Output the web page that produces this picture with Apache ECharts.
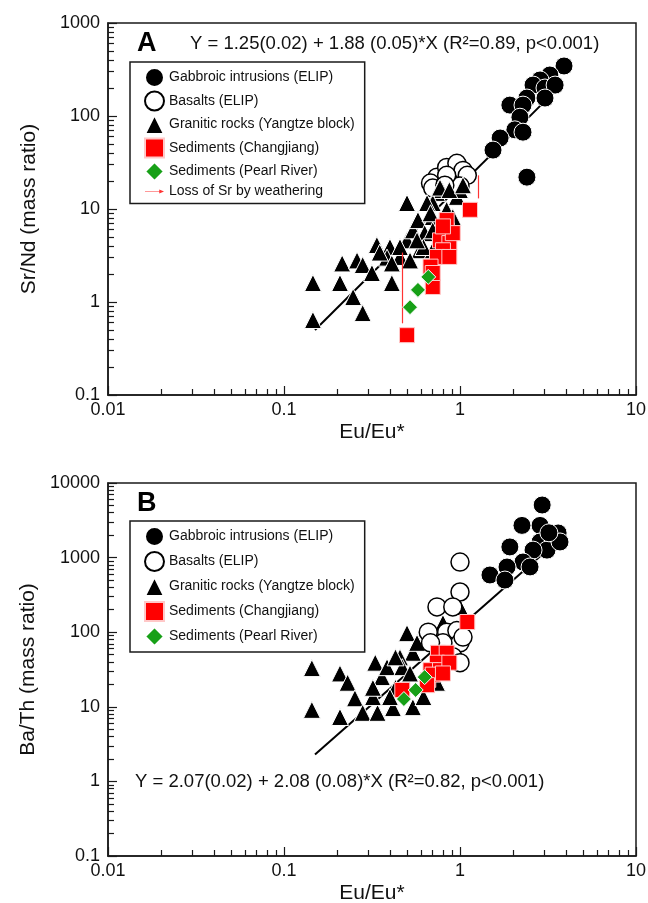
<!DOCTYPE html>
<html><head><meta charset="utf-8">
<script src="https://cdn.jsdelivr.net/npm/echarts@6/dist/echarts.min.js"></script>
<style>html,body{margin:0;padding:0;background:#fff}#c{width:648px;height:903px}</style>
</head><body><div id="c"></div>
<script>
// ---------- data ----------
const xTickLabels = ['0.01', '0.1', '1', '10'];
const yTickLabelsA = ['0.1', '1', '10', '100', '1000'];
const yTickLabelsB = ['0.1', '1', '10', '100', '1000', '10000'];
const names = ['Gabbroic intrusions (ELIP)', 'Basalts (ELIP)', 'Granitic rocks (Yangtze block)',
  'Sediments (Changjiang)', 'Sediments (Pearl River)', 'Loss of Sr by weathering'];

// Panel A: Sr/Nd vs Eu/Eu*
const gabbroA = [[3.90,345],[3.24,276],[2.85,244],[2.60,215],[3.04,200],[3.47,215],[2.40,156],[1.92,131],
  [2.28,131],[3.04,156],[2.19,97],[2.05,71],[2.28,67],[1.69,58],[1.54,43],[2.40,22]];
const basaltA = [[0.74,22],[0.84,28],[0.96,31],[1.04,26],[1.10,23],[0.68,19],[1.0,17.7],[0.70,16.8],
  [0.84,23],[0.82,18]];
const graniteA = [[0.146,1.6],[0.146,0.64],[0.214,2.6],[0.26,2.8],[0.208,1.6],[0.28,2.5],[0.337,4.1],
  [0.40,3.9],[0.385,3.0],[0.247,1.13],[0.28,0.76],[0.316,2.05],[0.41,1.6],[0.35,3.4],[0.456,3.05],
  [0.50,11.6],[0.50,4.6],[0.54,5.9],[0.577,7.6],[0.63,5.5],[0.59,3.6],[0.70,8.2],[0.74,14.9],[0.79,16],
  [0.70,11.6],[0.84,9.8],[0.96,13.5],[0.91,8.2],[1.0,16],[0.80,5.0],[0.70,3.6],[0.52,2.8],[0.62,3.9],
  [0.65,11.6],[0.456,3.9],[0.41,2.6],[0.57,4.6],[0.70,5.9],[0.68,9.0],[0.77,17],[0.87,16],[1.04,18]];
const changjiangA = [[1.14,9.8],[0.50,0.44],[0.84,5.9],[0.77,4.6],[0.87,4.3],[0.80,3.6],[0.74,3.05],
  [0.68,2.4],[0.70,1.45],[0.87,3.05],[0.84,7.6],[0.91,5.5],[0.80,6.5],[0.70,2.05]];
const pearlA = [[0.66,1.86],[0.577,1.35],[0.52,0.88]];
const fitA = [[0.15,0.5],[3.8,220]];
const arrowsA = [[[0.47,3.4],[0.47,0.59]],[[1.265,23],[1.265,13]]];

// Panel B: Ba/Th vs Eu/Eu*
const gabbroB = [[2.93,5070],[2.85,2700],[2.25,2700],[3.61,2140],[2.85,1620],[1.92,1390],[3.12,1260],
  [2.60,1260],[2.28,873],[1.85,748],[1.48,585],[1.80,500],[2.5,750],[3.7,1620],[3.2,2150]];
const basaltB = [[1.0,870],[1.0,346],[0.74,218],[0.91,218],[0.66,100],[0.84,100],[0.96,105],[1.0,72],
  [0.91,47],[1.0,39],[1.04,86],[0.80,72],[0.68,72]];
const graniteB = [[0.144,33],[0.144,9.1],[0.208,28],[0.23,21],[0.253,13],[0.208,7.3],[0.28,8.3],[0.33,39],
  [0.34,8.3],[0.416,9.6],[0.43,18],[0.50,97],[0.54,53],[0.54,9.9],[0.62,13.5],[0.32,13.5],[0.36,25],
  [0.32,18],[0.40,13.5],[0.385,34],[0.456,46],[0.47,34],[0.52,28],[0.80,133],[1.0,218],[0.74,21],
  [0.43,46],[0.57,72]];
const changjiangB = [[1.10,137],[0.47,16.8],[0.75,53],[0.84,53],[0.74,39],[0.68,31],[0.77,31],[0.66,23],
  [0.87,39],[0.70,27],[0.80,28],[0.65,19.5]];
const pearlB = [[0.63,25],[0.56,16.8],[0.48,12.7]];
const fitB = [[0.15,2.3],[3.8,1890]];

// ---------- helpers ----------
const FONT = 'Liberation Sans, Arial, sans-serif';
const AX = '#1a1a1a';
function minorVals(lo, hi) {
  const v = [];
  for (let d = lo; d < hi; d++) for (let m = 2; m <= 9; m++) v.push(d + Math.log10(m));
  return v;
}
const gridBase = { show: true, borderColor: AX, borderWidth: 1.5, backgroundColor: '#fff',
  containLabel: false, outerBoundsMode: 'none' };
const grids = [
  Object.assign({ left: 108, top: 23, width: 528, height: 372 }, gridBase),
  Object.assign({ left: 108, top: 483, width: 528, height: 373 }, gridBase)
];
function xAxesFor(g) {
  return [
    { type: 'log', logBase: 10, gridIndex: g, min: 0.01, max: 10, show: false, position: 'bottom',
      axisLine: { onZero: false } },
    { type: 'value', gridIndex: g, min: -2, max: 1, interval: 1, position: 'bottom',
      axisLine: { show: true, onZero: false, lineStyle: { color: AX, width: 1.5 } },
      axisTick: { inside: true, length: 9, lineStyle: { color: AX, width: 1.2 } },
      axisLabel: { fontSize: 18, color: '#111', fontFamily: FONT, margin: 6,
        formatter: v => xTickLabels[Math.round(v + 2)] },
      splitLine: { show: false },
      name: 'Eu/Eu*', nameLocation: 'middle', nameGap: 27,
      nameTextStyle: { fontSize: 21, color: '#111', fontFamily: FONT } },
    { type: 'value', gridIndex: g, min: -2, max: 1, interval: 1, position: 'bottom',
      axisLine: { show: false, onZero: false },
      axisTick: { inside: true, length: 6, customValues: minorVals(-2, 1), lineStyle: { color: AX, width: 1.2 } },
      axisLabel: { show: false }, splitLine: { show: false } }
  ];
}
function yAxesFor(g, lo, hi, labels, name) {
  return [
    { type: 'log', logBase: 10, gridIndex: g, min: Math.pow(10, lo), max: Math.pow(10, hi), show: false,
      position: 'left', axisLine: { onZero: false } },
    { type: 'value', gridIndex: g, min: lo, max: hi, interval: 1, position: 'left',
      axisLine: { show: true, onZero: false, lineStyle: { color: AX, width: 1.5 } },
      axisTick: { inside: true, length: 9, lineStyle: { color: AX, width: 1.2 } },
      axisLabel: { fontSize: 18, color: '#111', fontFamily: FONT, margin: 8,
        formatter: v => labels[Math.round(v - lo)] },
      splitLine: { show: false },
      name: name, nameLocation: 'middle', nameGap: 68, nameRotate: 90,
      nameTextStyle: { fontSize: 21, color: '#111', fontFamily: FONT } },
    { type: 'value', gridIndex: g, min: lo, max: hi, interval: 1, position: 'left',
      axisLine: { show: false, onZero: false },
      axisTick: { inside: true, length: 6, customValues: minorVals(lo, hi), lineStyle: { color: AX, width: 1.2 } },
      axisLabel: { show: false }, splitLine: { show: false } }
  ];
}
const styles = [
  { symbol: 'circle', symbolSize: 18, itemStyle: { color: '#000', borderColor: '#fff', borderWidth: 1, opacity: 1 } },
  { symbol: 'circle', symbolSize: 18, itemStyle: { color: '#fff', borderColor: '#000', borderWidth: 1.5, opacity: 1 } },
  { symbol: 'triangle', symbolSize: 17, itemStyle: { color: '#000', borderColor: '#fff', borderWidth: 1, opacity: 1 } },
  { symbol: 'rect', symbolSize: 15, itemStyle: { color: '#ff0000', borderColor: '#ffc8c8', borderWidth: 1, opacity: 1 } },
  { symbol: 'diamond', symbolSize: 15, itemStyle: { color: '#17a017', borderColor: '#fff', borderWidth: 1, opacity: 1 } }
];
function scatter(i, data, axIdx, z) {
  return Object.assign({ type: 'scatter', name: names[i], data: data, xAxisIndex: axIdx, yAxisIndex: axIdx,
    z: z, emphasis: { disabled: true }, animation: false }, styles[i]);
}
function fitLine(data, axIdx) {
  return { type: 'line', data: data, xAxisIndex: axIdx, yAxisIndex: axIdx, symbol: 'none', z: 1,
    lineStyle: { color: '#000', width: 2 }, silent: true, animation: false };
}
const series = [
  fitLine(fitA, 0),
  scatter(0, gabbroA, 0, 2), scatter(1, basaltA, 0, 3), scatter(2, graniteA, 0, 4),
  scatter(3, changjiangA, 0, 5), scatter(4, pearlA, 0, 6),
  { type: 'line', name: names[5], data: [], xAxisIndex: 0, yAxisIndex: 0, color: '#ff3333',
    symbol: 'none', animation: false, z: 7,
    markLine: { silent: true, symbol: ['none', 'arrow'], symbolSize: [0, 9], animation: false,
      label: { show: false }, lineStyle: { color: '#ff3333', width: 1.2, type: 'solid' },
      data: arrowsA.map(a => [{ coord: a[0] }, { coord: a[1] }]) } },
  fitLine(fitB, 3),
  scatter(0, gabbroB, 3, 2), scatter(2, graniteB, 3, 3), scatter(1, basaltB, 3, 4),
  scatter(3, changjiangB, 3, 5), scatter(4, pearlB, 3, 6)
];
const legendBase = {
  orient: 'vertical', itemWidth: 19, itemHeight: 19, itemGap: 2.5,
  borderColor: AX, borderWidth: 1.5, backgroundColor: '#fff', padding: [5, 10, 5, 14],
  textStyle: { fontSize: 14, color: '#111', fontFamily: FONT }, selectedMode: false, z: 10
};
const arrowIcon = 'path://M0,9.5 L30,9.5 L30,6 L40,10 L30,14 L30,10.5 L0,10.5 Z';
const option = {
  backgroundColor: '#fff',
  animation: false,
  grid: grids,
  xAxis: [...xAxesFor(0), ...xAxesFor(1)],
  yAxis: [...yAxesFor(0, -1, 3, yTickLabelsA, 'Sr/Nd (mass ratio)'),
          ...yAxesFor(1, -1, 4, yTickLabelsB, 'Ba/Th (mass ratio)')],
  legend: [
    Object.assign({}, legendBase, { left: 130, top: 62,
      data: names.slice(0, 5).map(n => ({ name: n })).concat([{ name: names[5], icon: arrowIcon }]) }),
    Object.assign({}, legendBase, { left: 130, top: 521, itemGap: 4,
      data: names.slice(0, 5).map(n => ({ name: n })) })
  ],
  graphic: [
    { type: 'text', left: 137, top: 30, style: { text: 'A', fontSize: 27, fontWeight: 'bold', fontFamily: FONT, fill: '#000' } },
    { type: 'text', left: 190, top: 34, style: { text: 'Y = 1.25(0.02) + 1.88 (0.05)*X (R²=0.89, p<0.001)', fontSize: 18.5, fontFamily: FONT, fill: '#111' } },
    { type: 'text', left: 137, top: 490, style: { text: 'B', fontSize: 27, fontWeight: 'bold', fontFamily: FONT, fill: '#000' } },
    { type: 'text', left: 135, top: 772, style: { text: 'Y = 2.07(0.02) + 2.08 (0.08)*X (R²=0.82, p<0.001)', fontSize: 18.5, fontFamily: FONT, fill: '#111' } }
  ],
  series: series
};
const chart = echarts.init(document.getElementById('c'), null, { renderer: 'canvas' });
chart.setOption(option);
</script></body></html>
